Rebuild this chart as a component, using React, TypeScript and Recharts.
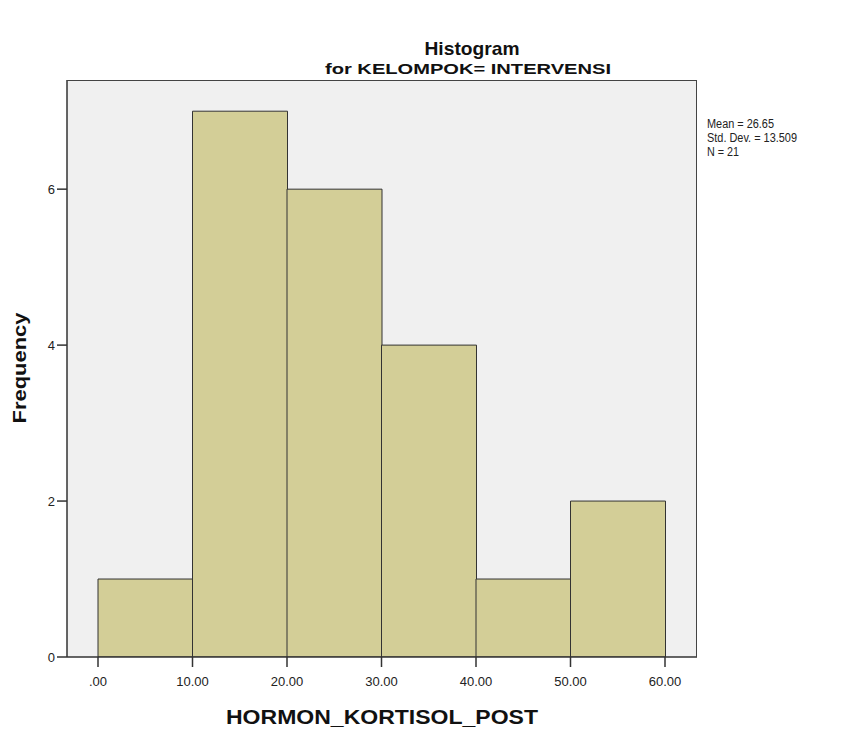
import React from 'react';
import { ComposedChart, Bar, Line, XAxis, YAxis, CartesianGrid } from 'recharts';

// Histogram bins (lower edge, upper edge) and frequencies
const binLower = [0, 10, 20, 30, 40, 50];
const binUpper = [10, 20, 30, 40, 50, 60];
const frequencies = [1, 7, 6, 4, 1, 2];
const xTicks = [0, 10, 20, 30, 40, 50, 60];
const yTicks = [0, 2, 4, 6];
const statsLines = ['Mean = 26.65', 'Std. Dev. = 13.509', 'N = 21'];
const statsWidths = [67, 90, 32];

const data = binLower.map((lo, i) => ({
  lo,
  hi: binUpper[i],
  mid: (lo + binUpper[i]) / 2,
  count: frequencies[i],
}));

const FONT = '"Liberation Sans", Arial, sans-serif';
const fmt = (v: number) => (v === 0 ? '.00' : v.toFixed(2));

export default function App() {
  return (
    <div style={{ position: 'absolute', left: 0, top: 0, width: 846, height: 729, background: '#fff', fontFamily: FONT }}>
      <ComposedChart
        width={846}
        height={729}
        data={data}
        margin={{ top: 80, right: 149, bottom: 42, left: 17 }}
        barCategoryGap={0}
        barGap={0}
      >
        <CartesianGrid horizontal={false} vertical={false} fill="#f0f0f0" stroke="none" />
        <XAxis
          xAxisId="cat"
          dataKey="mid"
          type="category"
          hide
          height={0}
          padding={{ left: 31, right: 32 }}
        />
        <XAxis
          xAxisId="num"
          dataKey="mid"
          type="number"
          domain={[0, 60]}
          ticks={xTicks}
          tickFormatter={fmt}
          padding={{ left: 31, right: 32 }}
          height={30}
          tickSize={10}
          tickMargin={10}
          axisLine={{ stroke: '#333', strokeWidth: 1.5 }}
          tickLine={{ stroke: '#333', strokeWidth: 1.5 }}
          tick={{ fill: '#222', fontSize: 13, fontFamily: FONT }}
          allowDataOverflow
        />
        <YAxis
          width={50}
          domain={[0, 7.4]}
          ticks={yTicks}
          allowDataOverflow
          tickSize={10}
          tickMargin={2}
          axisLine={{ stroke: '#333', strokeWidth: 1.5 }}
          tickLine={{ stroke: '#333', strokeWidth: 1.5 }}
          tick={{ fill: '#222', fontSize: 13, fontFamily: FONT }}
        />
        <Bar
          xAxisId="cat"
          dataKey="count"
          fill="#d3ce97"
          stroke="#333"
          strokeWidth={1}
          isAnimationActive={false}
        />
        <Line
          xAxisId="num"
          dataKey="count"
          stroke="none"
          dot={false}
          activeDot={false}
          isAnimationActive={false}
          legendType="none"
        />
      </ComposedChart>
      <div
        style={{
          position: 'absolute',
          left: 67,
          top: 80,
          width: 630,
          height: 577,
          boxSizing: 'border-box',
          borderTop: '1px solid #444',
          borderRight: '1px solid #444',
          pointerEvents: 'none',
        }}
      />
      <svg width={846} height={729} style={{ position: 'absolute', left: 0, top: 0, pointerEvents: 'none' }}>
        <text x={472} y={55} textAnchor="middle" fontSize={19} fontWeight="bold" fontFamily={FONT} fill="#111" textLength={95} lengthAdjust="spacingAndGlyphs">
          Histogram
        </text>
        <text x={468} y={74} textAnchor="middle" fontSize={15} fontWeight="bold" fontFamily={FONT} fill="#111" textLength={286} lengthAdjust="spacingAndGlyphs">
          for KELOMPOK= INTERVENSI
        </text>
        <text x={382} y={724} textAnchor="middle" fontSize={20} fontWeight="bold" fontFamily={FONT} fill="#111" textLength={312} lengthAdjust="spacingAndGlyphs">
          HORMON_KORTISOL_POST
        </text>
        <text
          x={0}
          y={0}
          transform="translate(26 368) rotate(-90)"
          textAnchor="middle"
          fontSize={18}
          fontWeight="bold"
          fontFamily={FONT}
          fill="#111"
          textLength={111}
          lengthAdjust="spacingAndGlyphs"
        >
          Frequency
        </text>
        {statsLines.map((s, i) => (
          <text
            key={s}
            x={707}
            y={128 + i * 14}
            fontSize={12.5}
            fontFamily={FONT}
            fill="#222"
            textLength={statsWidths[i]}
            lengthAdjust="spacingAndGlyphs"
          >
            {s}
          </text>
        ))}
      </svg>
    </div>
  );
}
